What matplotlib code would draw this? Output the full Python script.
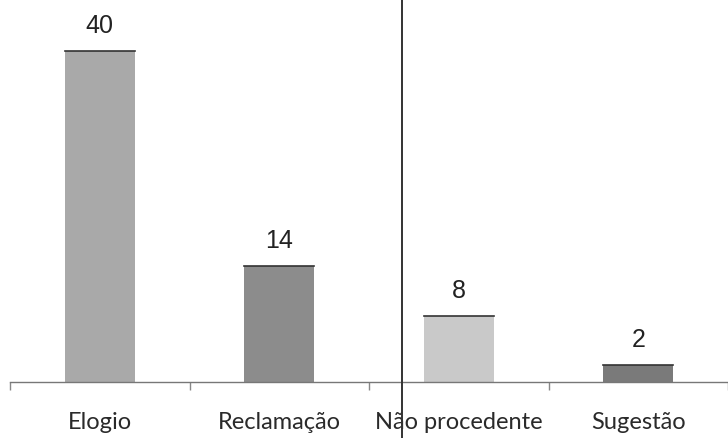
import matplotlib
matplotlib.use("Agg")
import matplotlib.pyplot as plt

categories = ["Elogio", "Reclamação", "Não procedente", "Sugestão"]
counts = [40, 14, 8, 2]
bar_colors = ["#a9a9a9", "#8c8c8c", "#c9c9c9", "#7a7a7a"]

W, H = 728, 439
PX_PER_UNIT = 8.28
fig = plt.figure(figsize=(W / 100, H / 100), dpi=100)
# axes: left edge at x=10 px, baseline at y=383 px
ax = fig.add_axes([10 / W, (H - 383) / H, 1 - 10 / W, 383 / H])
ax.set_xlim(-0.5, (728 - 10) / 182 - 0.5)
ax.set_ylim(0, 383 / PX_PER_UNIT)

x = list(range(len(categories)))
ax.bar(x, counts, width=0.39, color=bar_colors, edgecolor="none", zorder=2)
for xi, c in zip(x, counts):
    ax.plot([xi - 0.195, xi + 0.195], [c, c], color="#333333", lw=1.2, zorder=3)
    ax.text(xi, c + 26 / PX_PER_UNIT, str(c), ha="center", va="center",
            fontsize=18, family="Liberation Sans", color="#222222")

for s in ["top", "right", "left"]:
    ax.spines[s].set_visible(False)
ax.spines["bottom"].set_color("#777777")
ax.spines["bottom"].set_linewidth(1.0)
ax.set_yticks([])
ax.set_xticks([i - 0.5 for i in range(len(categories) + 1)])
ax.set_xticklabels([])
ax.tick_params(axis="x", direction="out", length=6, color="#888888", width=1)

for xi, lab in zip(x, categories):
    ax.text(xi, -40 / PX_PER_UNIT, lab, ha="center", va="center",
            fontsize=17, family="Lato", color="#2a2a2a")

# vertical fold line from the scanned page
fig.add_artist(plt.Line2D([402 / W, 402 / W], [0, 1], color="#333333", lw=1.4))

fig.savefig("out.png", dpi=100)
